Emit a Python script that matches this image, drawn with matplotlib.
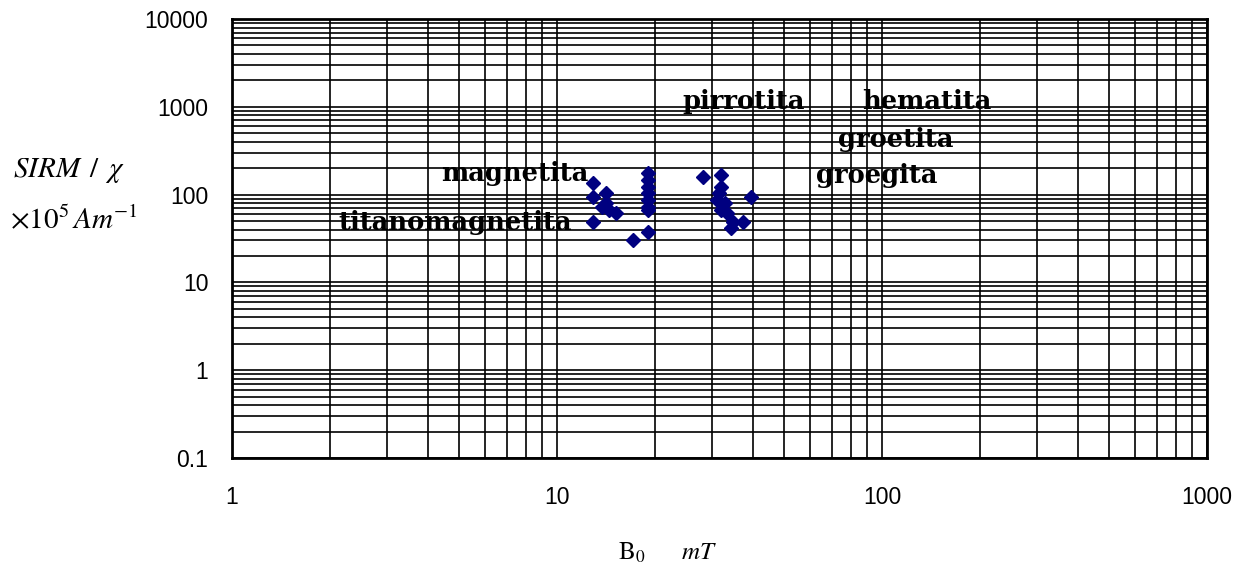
import matplotlib
matplotlib.use("Agg")
import matplotlib.pyplot as plt
from matplotlib.ticker import LogLocator, FixedLocator, NullFormatter

plt.rcParams['mathtext.fontset'] = 'stix'

# B0 (mT) vs SIRM/chi (x10^5 A/m)
b0 = [12.9, 12.9, 14.1, 14.1, 14.5, 15.2, 13.8, 12.9, 17.1,
      19.0, 19.0, 19.0, 19.0, 19.0, 19.0, 19.0, 19.0,
      28.1, 32.0, 32.0, 31.6, 31.1, 32.9, 32.0, 33.4, 34.7, 34.4, 37.3, 39.6]
sirm_chi = [135, 94.6, 103.5, 79.6, 66.8, 61.2, 72.8, 49.1, 30.4,
            175, 146.6, 123, 103.5, 86.8, 72.8, 66.8, 37.8,
            160, 167, 123, 103.5, 86.8, 79.6, 66.8, 61.2, 49.1, 41.3, 49.1, 94.6]

minerals = ["titanomagnetita", "magnetita", "pirrotita", "hematita", "groetita", "groegita"]
mineral_x = [4.86, 7.43, 37.4, 137, 110, 96.5]
mineral_y = [48.7, 172, 1135, 1135, 419, 167]

x_ticks = [1, 10, 100, 1000]
y_ticks = [0.1, 1, 10, 100, 1000, 10000]
y_tick_labels = ["0.1", "1", "10", "100", "1000", "10000"]

fig = plt.figure(figsize=(12.52, 5.64), dpi=100)
ax = fig.add_axes([0.1853, 0.188, 0.7788, 0.7783])
ax.set_xscale("log")
ax.set_yscale("log")
ax.set_xlim(1, 1000)
ax.set_ylim(0.1, 10000)

ax.xaxis.set_major_locator(FixedLocator(x_ticks))
ax.yaxis.set_major_locator(FixedLocator(y_ticks))
ax.xaxis.set_minor_locator(LogLocator(base=10, subs=range(2, 10)))
ax.yaxis.set_minor_locator(LogLocator(base=10, subs=range(2, 10)))
ax.xaxis.set_minor_formatter(NullFormatter())
ax.yaxis.set_minor_formatter(NullFormatter())
ax.set_xticklabels([str(v) for v in x_ticks])
ax.set_yticklabels(y_tick_labels)
ax.grid(True, which="both", color="black", linewidth=1.2)
ax.tick_params(which="both", length=0)
ax.tick_params(axis="x", pad=20)
ax.tick_params(axis="y", pad=17)
for lbl in ax.get_xticklabels() + ax.get_yticklabels():
    lbl.set_fontfamily("Liberation Sans")
    lbl.set_fontsize(16.5)
for s in ax.spines.values():
    s.set_linewidth(2)
    s.set_color("black")

ax.plot(b0, sirm_chi, linestyle="none", marker="D", markersize=7,
        color="#000080", zorder=5)

for name, tx, ty in zip(minerals, mineral_x, mineral_y):
    ax.text(tx, ty, name, ha="center", va="center", fontsize=18.5,
            fontweight="bold", family="DejaVu Serif", zorder=6)

fig.text(0.01, 0.697, r"$SIRM\ \,/\ \,\chi$", fontsize=21, ha="left", va="center")
fig.text(0.008, 0.61, r"$\times10^5\,Am^{-1}$", fontsize=21, ha="left", va="center")
fig.text(0.533, 0.02, r"$\mathrm{B_0}\qquad mT$", fontsize=18, ha="center", va="center")

fig.savefig("out.png", dpi=100)
